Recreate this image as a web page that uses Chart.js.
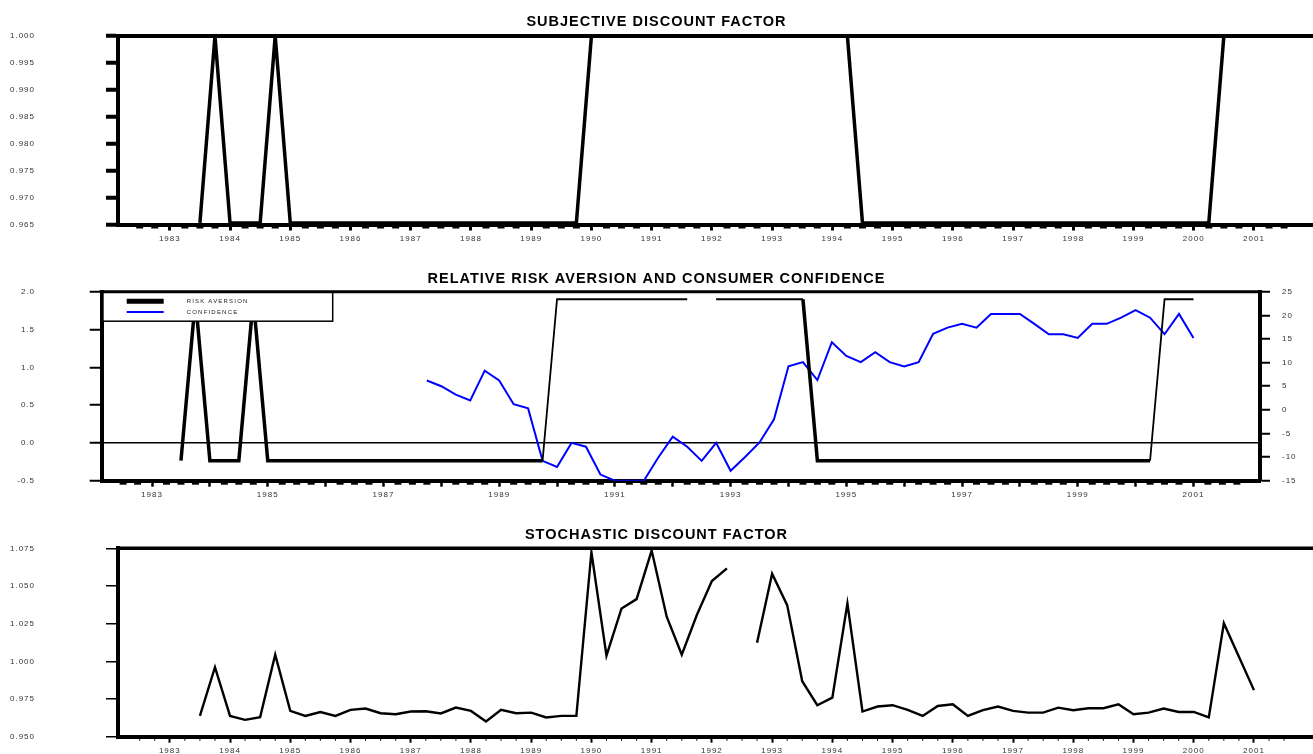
<!DOCTYPE html>
<html>
<head>
<meta charset="utf-8">
<title>Discount factors, risk aversion and consumer confidence</title>
<script src="https://cdn.jsdelivr.net/npm/chart.js@4.4.1/dist/chart.umd.min.js"></script>
<style>
  html, body { margin: 0; padding: 0; background: #fff; overflow: hidden; }
  canvas { position: absolute; left: 0; }
</style>
</head>
<body>
<canvas id="sdf" width="1313" height="256" style="top:0"></canvas>
<canvas id="rra" width="1313" height="248" style="top:256px"></canvas>
<canvas id="stoch" width="1313" height="254" style="top:504px"></canvas>
<script>
// quarterly observations, year:quarter
const quarters = [
  '1983:3','1983:4',
  '1984:1','1984:2','1984:3','1984:4',
  '1985:1','1985:2','1985:3','1985:4',
  '1986:1','1986:2','1986:3','1986:4',
  '1987:1','1987:2','1987:3','1987:4',
  '1988:1','1988:2','1988:3','1988:4',
  '1989:1','1989:2','1989:3','1989:4',
  '1990:1','1990:2','1990:3','1990:4',
  '1991:1','1991:2','1991:3','1991:4',
  '1992:1','1992:2','1992:3','1992:4',
  '1993:1','1993:2','1993:3','1993:4',
  '1994:1','1994:2','1994:3','1994:4',
  '1995:1','1995:2','1995:3','1995:4',
  '1996:1','1996:2','1996:3','1996:4',
  '1997:1','1997:2','1997:3','1997:4',
  '1998:1','1998:2','1998:3','1998:4',
  '1999:1','1999:2','1999:3','1999:4',
  '2000:1','2000:2','2000:3','2000:4',
  '2001:1'
];

const subjectiveDF = [
  0.9653, 1.0,
  0.9653, 0.9653, 0.9653, 1.0,
  0.9653, 0.9653, 0.9653, 0.9653,
  0.9653, 0.9653, 0.9653, 0.9653,
  0.9653, 0.9653, 0.9653, 0.9653,
  0.9653, 0.9653, 0.9653, 0.9653,
  0.9653, 0.9653, 0.9653, 0.9653,
  1.0, 1.0, 1.0, 1.0,
  1.0, 1.0, 1.0, 1.0,
  1.0, 1.0, null, 1.0,
  1.0, 1.0, 1.0, 1.0,
  1.0, 1.0, 0.9653, 0.9653,
  0.9653, 0.9653, 0.9653, 0.9653,
  0.9653, 0.9653, 0.9653, 0.9653,
  0.9653, 0.9653, 0.9653, 0.9653,
  0.9653, 0.9653, 0.9653, 0.9653,
  0.9653, 0.9653, 0.9653, 0.9653,
  0.9653, 0.9653, 1.0, 1.0,
  1.0
];

const riskAversion = [
  -0.235, 1.9,
  -0.235, -0.235, -0.235, 1.9,
  -0.235, -0.235, -0.235, -0.235,
  -0.235, -0.235, -0.235, -0.235,
  -0.235, -0.235, -0.235, -0.235,
  -0.235, -0.235, -0.235, -0.235,
  -0.235, -0.235, -0.235, -0.235,
  1.9, 1.9, 1.9, 1.9,
  1.9, 1.9, 1.9, 1.9,
  1.9, 1.9, null, 1.9,
  1.9, 1.9, 1.9, 1.9,
  1.9, 1.9, -0.235, -0.235,
  -0.235, -0.235, -0.235, -0.235,
  -0.235, -0.235, -0.235, -0.235,
  -0.235, -0.235, -0.235, -0.235,
  -0.235, -0.235, -0.235, -0.235,
  -0.235, -0.235, -0.235, -0.235,
  -0.235, -0.235, 1.9, 1.9,
  1.9
];

const confidence = [
  null, null,
  null, null, null, null,
  null, null, null, null,
  null, null, null, null,
  null, null, null, 6.2,
  5.0, 3.2, 2.0, 8.3,
  6.2, 1.2, 0.3, -10.8,
  -12.1, -7.0, -7.8, -13.7,
  -15.0, -15.0, -15.0, -10.1,
  -5.7, -7.8, -10.8, -7.0,
  -12.9, -10.0, -6.9, -2.0,
  9.2, 10.1, 6.3, 14.3,
  11.4, 10.1, 12.2, 10.1,
  9.2, 10.1, 16.1, 17.4,
  18.2, 17.4, 20.3, 20.3,
  20.3, 18.2, 16.0, 16.0,
  15.2, 18.2, 18.2, 19.5,
  21.1, 19.5, 16.0, 20.3,
  15.2
];

const stochasticDF = [
  0.9638, 0.9961,
  0.9638, 0.9612, 0.9630, 1.0044,
  0.9671, 0.9638, 0.9664, 0.9638,
  0.9678, 0.9687, 0.9656, 0.9649,
  0.9667, 0.9669, 0.9654, 0.9693,
  0.9671, 0.9601, 0.9678, 0.9656,
  0.9660, 0.9628, 0.9638, 0.9638,
  1.0724, 1.0038, 1.0351, 1.0413,
  1.0735, 1.0296, 1.0044, 1.0307,
  1.0533, 1.0617, null, 1.0123,
  1.0582, 1.0373, 0.9868, 0.9709,
  0.9759, 1.0384, 0.9667, 0.9700,
  0.9709, 0.9678, 0.9638, 0.9704,
  0.9715, 0.9638, 0.9676, 0.9700,
  0.9671, 0.9660, 0.9660, 0.9693,
  0.9676, 0.9689, 0.9689, 0.9715,
  0.9649, 0.9660, 0.9687, 0.9664,
  0.9664, 0.9628, 1.0253, 1.0031,
  0.9809
];

const FONT = "'Liberation Sans', Arial, sans-serif";
Chart.defaults.font.family = FONT;
Chart.defaults.animation = false;

function toYear(q) {
  const [y, n] = q.split(':').map(Number);
  return y + (n - 1) / 4;
}
function series(values) {
  return quarters.map((q, i) => ({ x: toYear(q), y: values[i] }));
}
function isYear(v) {
  return Math.abs(v - Math.round(v)) < 1e-6;
}

// canvas letter spacing, the original print is spaced out a bit
const spacing = {
  id: 'spacing',
  beforeUpdate(chart) { chart.ctx.letterSpacing = '1px'; },
  beforeDraw(chart) { chart.ctx.letterSpacing = '1px'; }
};

// top edge of the frame and the small quarter marks under the time axis
const frame = {
  id: 'frame',
  afterDraw(chart, args, o) {
    const { ctx, chartArea: a } = chart;
    const xs = chart.scales.x;
    ctx.save();
    ctx.strokeStyle = '#000';
    ctx.lineWidth = o.top;
    ctx.beginPath();
    ctx.moveTo(a.left - 2, a.top);
    ctx.lineTo(a.right + (o.closed ? 2 : 0), a.top);
    ctx.stroke();
    ctx.lineWidth = o.minorWidth;
    xs.ticks.forEach(t => {
      if (isYear(t.value)) return;
      const px = xs.getPixelForValue(t.value);
      if (px < a.left + 4 || px > a.right - 4) return;
      ctx.beginPath();
      if (o.minor === 'dash') {
        ctx.moveTo(px - 3.5, a.bottom + 3);
        ctx.lineTo(px + 3.5, a.bottom + 3);
      } else {
        ctx.moveTo(px, a.bottom);
        ctx.lineTo(px, a.bottom + 4);
      }
      ctx.stroke();
    });
    ctx.restore();
  }
};

// boxed legend sitting in the top left corner, drawn over the lines
const boxLegend = {
  id: 'boxLegend',
  afterDatasetsDraw(chart, args, o) {
    if (!o.show) return;
    const { ctx, chartArea: a } = chart;
    const x = a.left, y = a.top;
    ctx.save();
    ctx.fillStyle = '#fff';
    ctx.fillRect(x + 2, y, o.width, o.height);
    ctx.strokeStyle = '#000';
    ctx.lineWidth = 1.5;
    ctx.strokeRect(x, y, o.width, o.height);
    ctx.font = '6px ' + FONT;
    ctx.letterSpacing = '1.2px';
    ctx.textBaseline = 'middle';
    chart.data.datasets.forEach((ds, i) => {
      const ly = y + 9.6 + i * 10.6;
      ctx.strokeStyle = ds.borderColor;
      ctx.lineWidth = i === 0 ? 5 : 2;
      ctx.beginPath();
      ctx.moveTo(x + 25, ly);
      ctx.lineTo(x + 62, ly);
      ctx.stroke();
      ctx.fillStyle = '#222';
      ctx.fillText(ds.label, x + 85, ly);
    });
    ctx.restore();
  }
};

function timeAxis(min, max, height, tickWidth, showLabel) {
  return {
    type: 'linear',
    position: 'bottom',
    min: min,
    max: max,
    afterFit: s => { s.height = height; s.paddingLeft = 0; s.paddingRight = 0; },
    border: { display: true, color: '#000', width: 4 },
    grid: {
      drawOnChartArea: false,
      tickLength: 6,
      tickWidth: tickWidth,
      tickColor: c => isYear(c.tick.value) ? '#000' : 'rgba(0,0,0,0)'
    },
    ticks: {
      stepSize: 0.25,
      autoSkip: false,
      maxRotation: 0,
      minRotation: 0,
      padding: 3.5,
      color: '#333',
      font: { size: 8 },
      callback: v => (isYear(v) && showLabel(Math.round(v))) ? String(Math.round(v)) : ''
    }
  };
}

function valueAxis(opts) {
  return {
    type: 'linear',
    position: opts.position || 'left',
    min: opts.min,
    max: opts.max,
    afterFit: s => { s.width = opts.width; s.paddingTop = 0; s.paddingBottom = 0; },
    border: { display: true, color: '#000', width: 4 },
    grid: {
      drawOnChartArea: !!opts.zeroLine,
      color: c => (opts.zeroLine && c.tick && c.tick.value === 0) ? '#000' : 'rgba(0,0,0,0)',
      lineWidth: 1.5,
      tickLength: opts.tickLength,
      tickWidth: opts.tickWidth,
      tickColor: '#000'
    },
    ticks: {
      stepSize: opts.step,
      padding: opts.padding,
      color: '#333',
      font: { size: 8 },
      callback: v => v.toFixed(opts.digits)
    }
  };
}

function titleOpts(text, top, bottom) {
  return {
    display: true,
    text: text,
    color: '#000',
    font: { size: 14.5, weight: 'bold', lineHeight: 1.2 },
    padding: { top: top, bottom: bottom }
  };
}

// SUBJECTIVE DISCOUNT FACTOR
new Chart(document.getElementById('sdf'), {
  type: 'line',
  data: {
    datasets: [{
      label: 'SUBJECTIVE DISCOUNT FACTOR',
      data: series(subjectiveDF),
      borderColor: '#000',
      borderWidth: 3.5,
      pointRadius: 0,
      spanGaps: false
    }]
  },
  options: {
    responsive: false,
    devicePixelRatio: 1,
    layout: { padding: 0 },
    plugins: {
      legend: { display: false },
      tooltip: { enabled: false },
      title: titleOpts('SUBJECTIVE DISCOUNT FACTOR', 13.3, 5.3),
      frame: { top: 4, closed: false, minor: 'dash', minorWidth: 2 }
    },
    scales: {
      x: timeAxis(1982.14, 2001.98, 31.5, 3, () => true),
      y: valueAxis({ min: 0.965, max: 1.0, step: 0.005, digits: 3, width: 118,
                     tickLength: 12, tickWidth: 4, padding: 71 })
    }
  },
  plugins: [spacing, frame]
});

// RELATIVE RISK AVERSION AND CONSUMER CONFIDENCE
new Chart(document.getElementById('rra'), {
  type: 'line',
  data: {
    datasets: [{
      label: 'RISK AVERSION',
      data: series(riskAversion),
      yAxisID: 'y',
      borderColor: '#000',
      borderWidth: 3.5,
      pointRadius: 0,
      spanGaps: false,
      segment: {
        borderWidth: c => ((c.p0.parsed.y > 1 && c.p1.parsed.y > 1) ||
                           (c.p0DataIndex > 20 && c.p1.parsed.y > c.p0.parsed.y)) ? 1.8 : 3.5
      }
    }, {
      label: 'CONFIDENCE',
      data: series(confidence),
      yAxisID: 'y2',
      borderColor: '#0000ff',
      borderWidth: 2,
      pointRadius: 0,
      spanGaps: false
    }]
  },
  options: {
    responsive: false,
    devicePixelRatio: 1,
    layout: { padding: 0 },
    plugins: {
      legend: { display: false },
      tooltip: { enabled: false },
      title: titleOpts('RELATIVE RISK AVERSION AND CONSUMER CONFIDENCE', 14.3, 4.0),
      frame: { top: 3, closed: true, minor: 'dash', minorWidth: 2 },
      boxLegend: { show: true, width: 231, height: 29.5 }
    },
    scales: {
      x: timeAxis(1982.13, 2002.15, 23.3, 2.5, y => y % 2 === 1),
      y: valueAxis({ min: -0.5, max: 2.0, step: 0.5, digits: 1, width: 101.7,
                     tickLength: 12, tickWidth: 2, padding: 54.7, zeroLine: true }),
      y2: valueAxis({ position: 'right', min: -15, max: 25, step: 5, digits: 0, width: 53,
                      tickLength: 10, tickWidth: 2, padding: 12 })
    }
  },
  plugins: [spacing, frame, boxLegend]
});

// STOCHASTIC DISCOUNT FACTOR
new Chart(document.getElementById('stoch'), {
  type: 'line',
  data: {
    datasets: [{
      label: 'STOCHASTIC DISCOUNT FACTOR',
      data: series(stochasticDF),
      borderColor: '#000',
      borderWidth: 2.4,
      pointRadius: 0,
      spanGaps: false
    }]
  },
  options: {
    responsive: false,
    devicePixelRatio: 1,
    layout: { padding: 0 },
    plugins: {
      legend: { display: false },
      tooltip: { enabled: false },
      title: titleOpts('STOCHASTIC DISCOUNT FACTOR', 22.3, 4.6),
      frame: { top: 3.5, closed: false, minor: 'tick', minorWidth: 1 }
    },
    scales: {
      x: timeAxis(1982.14, 2001.98, 21.3, 2, () => true),
      y: valueAxis({ min: 0.95, max: 1.075, step: 0.025, digits: 3, width: 118,
                     tickLength: 12, tickWidth: 1.5, padding: 71 })
    }
  },
  plugins: [spacing, frame]
});
</script>
</body>
</html>
